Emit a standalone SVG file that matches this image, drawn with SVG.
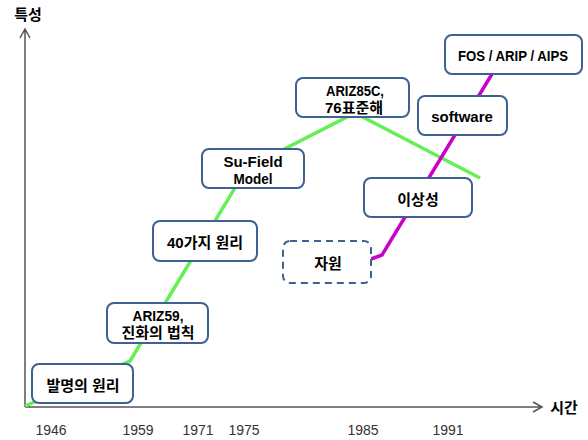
<svg xmlns="http://www.w3.org/2000/svg" width="588" height="440" viewBox="0 0 588 440">
<style>
.box{fill:#fff;stroke:#3d6190;stroke-width:2}
.dash{stroke-dasharray:7 5}
.t{font-family:"Liberation Sans","Noto Sans CJK KR",sans-serif;font-weight:bold;font-size:15px;fill:#000;text-anchor:middle}
.yr{font-family:"Liberation Sans","Noto Sans CJK KR",sans-serif;font-size:14px;fill:#333;text-anchor:middle}
.ax{fill:none;stroke:#555;stroke-width:1.5}
</style>
<rect width="588" height="440" fill="#fff"/>
<g id="axes">
<path class="ax" d="M25,407 V30 M20,38 L25,29 L30,38"/>
<path class="ax" d="M25,407 H541 M533,402 L542,407 L533,412"/>
<text class="t" x="28" y="20">특성</text>
<text class="t" x="564" y="413">시간</text>
</g>
<g id="years">
<text class="yr" x="51" y="435">1946</text>
<text class="yr" x="138" y="435">1959</text>
<text class="yr" x="198" y="435">1971</text>
<text class="yr" x="244" y="435">1975</text>
<text class="yr" x="363" y="435">1985</text>
<text class="yr" x="448" y="435">1991</text>
</g>
<g id="connectors">
<polyline points="25,406 130,361 247,168 355,113 480,178" fill="none" stroke="#66ee55" stroke-width="3.5"/>
<polyline points="371,259 382,255 492,74" fill="none" stroke="#cc00cc" stroke-width="3.5"/>
</g>
<g id="n1"><rect class="box" x="32" y="364" width="101" height="39" rx="7"/><text class="t" x="83" y="391">발명의 원리</text></g>
<g id="n2"><rect class="box" x="107" y="303" width="101" height="40" rx="7"/><text class="t" x="158" y="321" textLength="51" lengthAdjust="spacingAndGlyphs">ARIZ59,</text><text class="t" x="158" y="338">진화의 법칙</text></g>
<g id="n3"><rect class="box" x="153" y="221" width="104" height="40" rx="7"/><text class="t" x="205" y="248">40가지 원리</text></g>
<g id="n4"><rect class="box" x="202" y="149" width="102" height="39" rx="7"/><text class="t" x="253" y="167">Su-Field</text><text class="t" x="253" y="184" textLength="39" lengthAdjust="spacingAndGlyphs">Model</text></g>
<g id="n5"><rect class="box" x="296" y="78" width="113" height="39" rx="7"/><text class="t" x="355" y="96" textLength="58" lengthAdjust="spacingAndGlyphs">ARIZ85C,</text><text class="t" x="354" y="113">76표준해</text></g>
<g id="n6"><rect class="box" x="445" y="35" width="137" height="39" rx="7"/><text class="t" x="513" y="61" textLength="110" lengthAdjust="spacingAndGlyphs">FOS / ARIP / AIPS</text></g>
<g id="n7"><rect class="box" x="418" y="96" width="89" height="39" rx="7"/><text class="t" x="462" y="122">software</text></g>
<g id="n8"><rect class="box" x="364" y="178" width="108" height="39" rx="7"/><text class="t" x="418" y="205">이상성</text></g>
<g id="n9"><rect class="box dash" x="283" y="241" width="88" height="42" rx="7"/><text class="t" x="328" y="269">자원</text></g>
</svg>
